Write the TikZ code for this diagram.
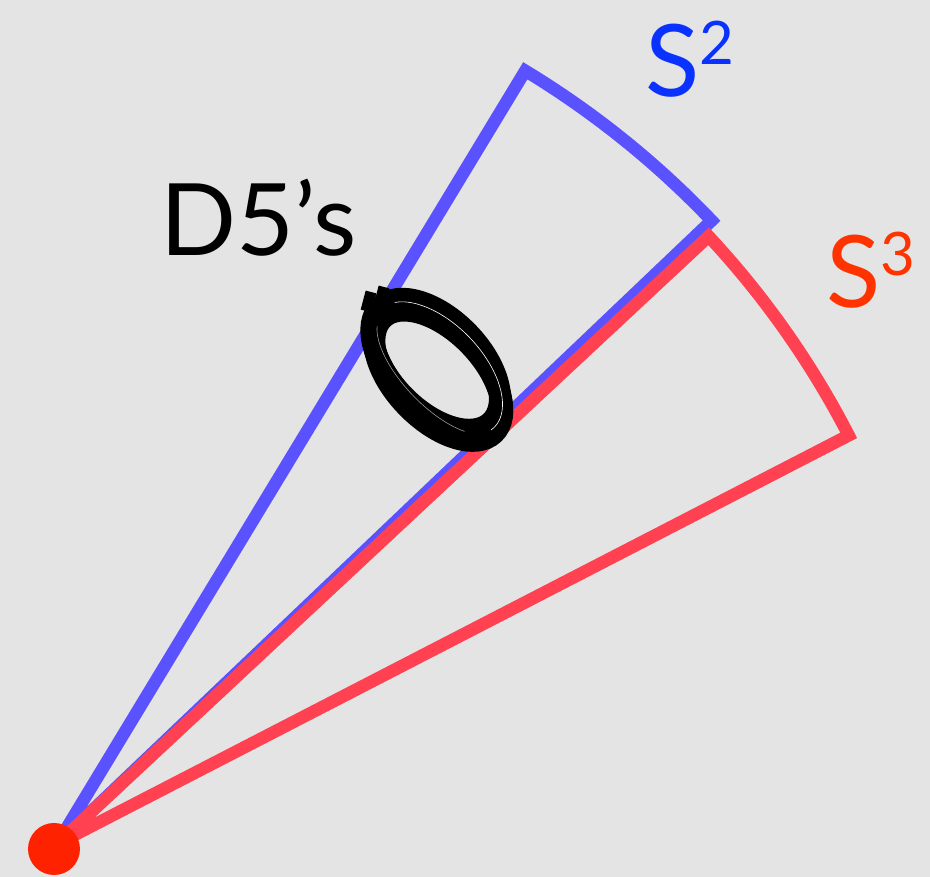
\documentclass[tikz,border=0pt]{standalone}
\usepackage{fontspec}
\setmainfont{Lato}
\definecolor{bg}{HTML}{E4E4E4}
\definecolor{blueline}{HTML}{5B52FF}
\definecolor{redline}{HTML}{FF4152}
\definecolor{bluetext}{HTML}{0A32FF}
\definecolor{redtext}{HTML}{FF3300}
\definecolor{dotred}{HTML}{FF2200}
\tikzset{
  sector/.style={line width=12.5pt, line join=miter, miter limit=4},
  loop/.style={draw=black, line width=22pt},
  glint/.style={draw=white, line width=0.6pt},
  bigtext/.style={inner sep=0pt, anchor=base west, font=\fontsize{100}{100}\selectfont},
}
\newcommand{\supnum}[1]{{\fontsize{60}{60}\selectfont\raisebox{32pt}{#1}}}
\begin{document}
\begin{tikzpicture}[x=1pt,y=1pt]
\fill[bg] (0,0) rectangle (930,877);
\useasboundingbox (0,0) rectangle (930,877);
\coordinate (O) at (57,33);
% blue sector S^2
\draw[sector, blueline] (O) -- ++(58.8:904) coordinate (b1)
  arc[start angle=58.8, end angle=43.6, radius=904] coordinate (b2) -- cycle;
% red sector S^3
\draw[sector, redline] (O) -- ++(43.0:891) coordinate (r1)
  arc[start angle=43.0, end angle=27.3, radius=891] coordinate (r2) -- cycle;
% D5 loops
\coordinate (E) at (437,507);
\begin{scope}[shift={(E)}, rotate=-46]
  \draw[loop] (-5,3) ellipse[x radius=80, y radius=45];
  \draw[loop] (0,0) ellipse[x radius=82, y radius=43];
  \draw[loop] (5,-3) ellipse[x radius=80, y radius=44];
  \draw[glint] (-1,1) ++(160:82 and 45) arc[start angle=160, end angle=-5, x radius=82, y radius=45];
  \draw[glint, opacity=0.6] (2,-1) ++(200:80 and 34) arc[start angle=200, end angle=320, x radius=80, y radius=34];
\end{scope}
\draw[black, line width=11pt] (366,566) -- (371,585);
\draw[black, line width=11pt] (379,571) -- (384,590);
% origin dot
\node[circle, fill=dotred, minimum size=52pt, inner sep=0pt] (dot) at (54,28) {};
% labels
\node[bigtext, bluetext] (s2) at (645,780) {S\supnum{2}};
\node[bigtext, redtext] (s3) at (826,569) {S\supnum{3}};
\node[bigtext, black] (d5) at (160,621) {D5’s};
\end{tikzpicture}
\end{document}
